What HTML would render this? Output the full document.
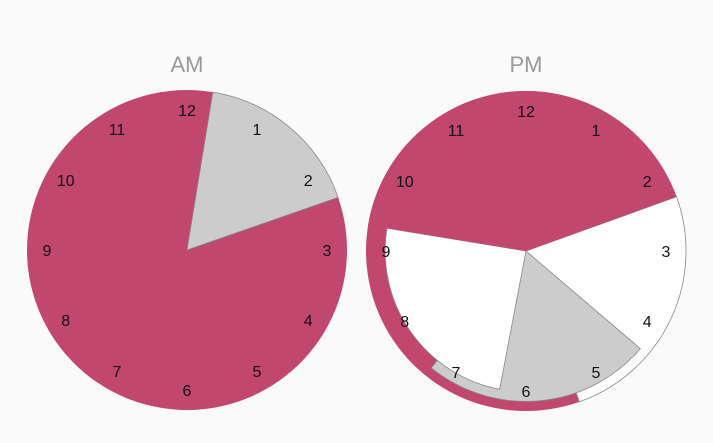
<!DOCTYPE html>
<html><head><meta charset="utf-8"><style>
html,body{margin:0;padding:0;background:#fafafa;}
svg{display:block;font-family:"Liberation Sans",Roboto,sans-serif;}
</style></head><body>
<svg id="chart" width="713" height="443"></svg>
<script>
// slices: start hour, end hour, radius fraction, color
const amStarts=[2.36,0.31];
const amEnds=[0.31,2.36];
const amRadii=[1,1];
const amColors=['#c2476f','#cccccc'];
const pmStarts=[2.34,4.35,6.36,9.31];
const pmEnds=[5.35,7.3,9.31,2.34];
const pmRadii=[1,0.94,0.88,1];
const pmColors=['#ffffff','#cccccc','#ffffff','#c2476f'];
const hourLabels=['12','1','2','3','4','5','6','7','8','9','10','11'];
const titles=['AM','PM'];

const NS='http://www.w3.org/2000/svg';
const svg=document.getElementById('chart');
const R=160,LR=140;
function pt(cx,cy,h,r){const a=h/12*2*Math.PI;return [cx+r*Math.sin(a),cy-r*Math.cos(a)];}
function slicePath(cx,cy,s,e,r){
  let span=e-s;if(span<=0)span+=12;
  const p1=pt(cx,cy,s,r),p2=pt(cx,cy,s+span,r);
  return `M${cx},${cy}L${p1[0]},${p1[1]}A${r},${r} 0 ${span>6?1:0} 1 ${p2[0]},${p2[1]}Z`;
}
function clock(cx,cy,title,starts,ends,radii,colors,bgRed,idx){
  const g=document.createElementNS(NS,'g');
  
  
  svg.appendChild(g);
  const t=document.createElementNS(NS,'text');
  
  
  t.setAttribute('x',cx);t.setAttribute('y',72);t.setAttribute('text-anchor','middle');
  t.setAttribute('font-size','22');t.setAttribute('fill','#999');t.textContent=title;
  g.appendChild(t);
  if(bgRed){
    const c=document.createElementNS(NS,'circle');
    
    
    c.setAttribute('cx',cx);c.setAttribute('cy',cy);c.setAttribute('r',R);c.setAttribute('fill','#c2476f');
    g.appendChild(c);
  }
  for(let i=0;i<starts.length;i++){
    const p=document.createElementNS(NS,'path');
    
    
    p.setAttribute('d',slicePath(cx,cy,starts[i],ends[i],R*radii[i]));
    p.setAttribute('fill',colors[i]);
    if(colors[i]!=='#c2476f'){p.setAttribute('stroke','#888');p.setAttribute('stroke-width','0.8');}
    g.appendChild(p);
  }
  for(let h=0;h<12;h++){
    const q=pt(cx,cy,h,LR);
    const l=document.createElementNS(NS,'text');
    
    
    l.setAttribute('x',q[0]);l.setAttribute('y',q[1]+6);l.setAttribute('text-anchor','middle');
    l.setAttribute('font-size','16');l.setAttribute('fill','#111');l.textContent=hourLabels[h];
    g.appendChild(l);
  }
}
clock(187,250,titles[0],amStarts,amEnds,amRadii,amColors,false,0);
clock(526,251,titles[1],pmStarts,pmEnds,pmRadii,pmColors,true,1);
</script>
</body></html>
